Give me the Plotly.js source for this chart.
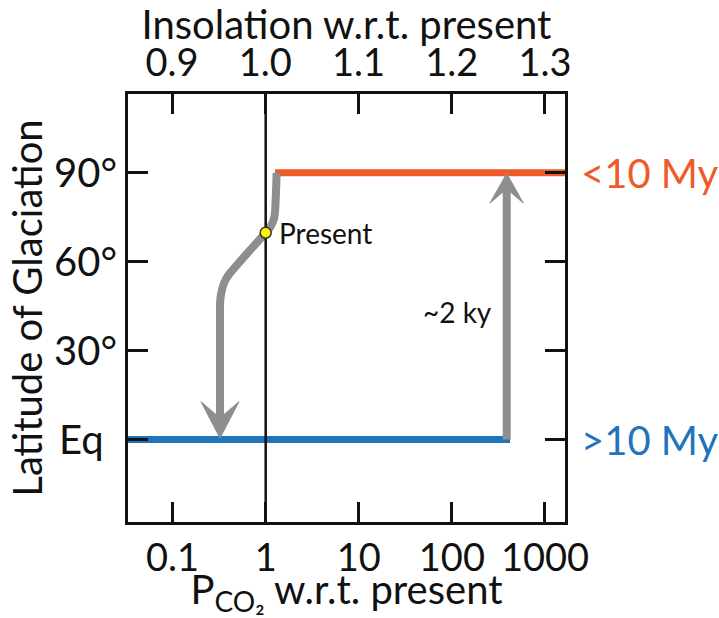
<!DOCTYPE html>
<html>
<head>
<meta charset="utf-8">
<script src="https://cdn.plot.ly/plotly-3.0.1.min.js"></script>
<style>html,body{margin:0;padding:0;background:#fff;}#chart{width:719px;height:618px;}</style>
</head>
<body>
<div id="chart"></div>
<script>
// ---- data ----
var pco2TickVals = [0.1, 1, 10, 100, 1000];
var pco2TickText = ['0.1', '1', '10', '100', '1000'];
var insolTickVals = [0.9, 1.0, 1.1, 1.2, 1.3];
var insolTickText = ['0.9', '1.0', '1.1', '1.2', '1.3'];
var latTickVals = [0, 30, 60, 90];
var latTickText = ['Eq\u2006\u2006', '30°', '60°', '90°'];

// young (<10 My) branch: glaciation reaches 90°
var youngX = [1.26, 2000];
var youngY = [90, 90];
// old (>10 My) branch: equatorial glaciation
var oldX = [0.01, 421];
var oldY = [0, 0];

// cooling path from high latitude through present to snowball
var coolX = [1.31, 1.295, 1.28, 1.265, 1.24, 1.2, 1.14, 1.072, 1.0, 0.414, 0.375, 0.348, 0.333, 0.325, 0.323, 0.323];
var coolY = [90, 85, 81, 77.5, 75.2, 73.6, 72.1, 70.8, 69.8, 56.2, 54.2, 51.8, 49.4, 47.0, 43.6, 7.3];
// down arrow head
var downHeadX = [0.2018, 0.323, 0.5166, 0.323, 0.2018];
var downHeadY = [12.8, 0.5, 12.8, 7.3, 12.8];

// deglaciation (~2 ky) path
var upX = [388, 388];
var upY = [0, 84.6];
var upHeadX = [256.6, 388, 584.6, 388, 256.6];
var upHeadY = [79.8, 89.8, 79.8, 84.6, 79.8];

// present-day marker
var presentX = [1.0];
var presentY = [69.8];
var refLineX = [1, 1];
var refLineY = [-40, 130];

var FONT = 'Lato, "Open Sans", sans-serif';
var BIG = 40;
var TICK = 38;
var SMALL = 28;
var ORANGE = '#ef5a28';
var BLUE = '#1f74bd';
var GRAY = '#8e8e8e';
var INK = '#111';

var traces = [
  {x: oldX, y: oldY, mode: 'lines', line: {color: BLUE, width: 7}, hoverinfo: 'skip'},
  {x: youngX, y: youngY, mode: 'lines', line: {color: ORANGE, width: 7}, hoverinfo: 'skip'},
  {x: coolX, y: coolY, mode: 'lines', line: {color: GRAY, width: 8, shape: 'spline', smoothing: 0.5}, hoverinfo: 'skip'},
  {x: downHeadX, y: downHeadY, mode: 'lines', fill: 'toself', fillcolor: GRAY, line: {color: GRAY, width: 1}, hoverinfo: 'skip'},
  {x: upX, y: upY, mode: 'lines', line: {color: GRAY, width: 8}, hoverinfo: 'skip'},
  {x: upHeadX, y: upHeadY, mode: 'lines', fill: 'toself', fillcolor: GRAY, line: {color: GRAY, width: 1}, hoverinfo: 'skip'},
  {x: refLineX, y: refLineY, mode: 'lines', line: {color: INK, width: 2.5}, hoverinfo: 'skip'},
  {x: presentX, y: presentY, mode: 'markers', marker: {color: '#fff200', size: 11, line: {color: '#333', width: 1.5}}, hoverinfo: 'skip'},
  {x: insolTickVals, y: insolTickVals.map(function(){return null;}), xaxis: 'x2', mode: 'lines', hoverinfo: 'skip'}
];

function fontOf(s) { return {family: FONT, size: s, color: INK}; }

var layout = {
  width: 719, height: 618,
  margin: {l: 128, r: 154, t: 94, b: 96, pad: 0},
  paper_bgcolor: '#fff', plot_bgcolor: '#fff',
  showlegend: false,
  font: {family: FONT, size: BIG, color: INK},
  xaxis: {
    type: 'log', range: [-1.479, 3.215],
    tickvals: pco2TickVals, ticktext: pco2TickText,
    ticks: 'inside', ticklen: 20, tickwidth: 3, tickcolor: INK,
    showline: true, linewidth: 3, linecolor: INK,
    showgrid: false, zeroline: false,
    tickfont: fontOf(TICK),
    title: {text: 'P<sub>CO₂</sub> w.r.t. present', font: fontOf(BIG), standoff: 0}
  },
  xaxis2: {
    overlaying: 'x', side: 'top', anchor: 'y', range: [0.8528, 1.3215],
    tickvals: insolTickVals, ticktext: insolTickText,
    ticks: 'inside', ticklen: 20, tickwidth: 3, tickcolor: INK,
    showline: true, linewidth: 3, linecolor: INK,
    showgrid: false, zeroline: false,
    tickfont: fontOf(TICK),
    title: {text: 'Insolation w.r.t. present', font: fontOf(BIG), standoff: 0}
  },
  yaxis: {
    range: [-27.8, 116.6],
    tickvals: latTickVals, ticktext: latTickText,
    ticks: 'inside', ticklen: 20, tickwidth: 3, tickcolor: INK,
    showline: true, linewidth: 3, linecolor: INK, mirror: 'ticks',
    showgrid: false, zeroline: false,
    tickfont: fontOf(BIG),
    title: {text: 'Latitude of Glaciation', font: fontOf(BIG), standoff: 0}
  },
  annotations: [
    {x: 1, xref: 'paper', y: 90, yref: 'y', text: '&lt;10 My', showarrow: false, xanchor: 'left', xshift: 14, font: {family: FONT, size: BIG, color: ORANGE}},
    {x: 1, xref: 'paper', y: 0, yref: 'y', text: '&gt;10 My', showarrow: false, xanchor: 'left', xshift: 14, font: {family: FONT, size: BIG, color: BLUE}},
    {x: Math.log10(presentX[0]), xref: 'x', y: presentY[0], yref: 'y', text: 'Present', showarrow: false, xanchor: 'left', xshift: 11, font: fontOf(SMALL)},
    {x: Math.log10(upX[0]), xref: 'x', y: 43, yref: 'y', text: '~2 ky', showarrow: false, xanchor: 'right', xshift: -13, font: fontOf(SMALL)}
  ]
};

Plotly.newPlot('chart', traces, layout, {staticPlot: true, displayModeBar: false});
</script>
</body>
</html>
